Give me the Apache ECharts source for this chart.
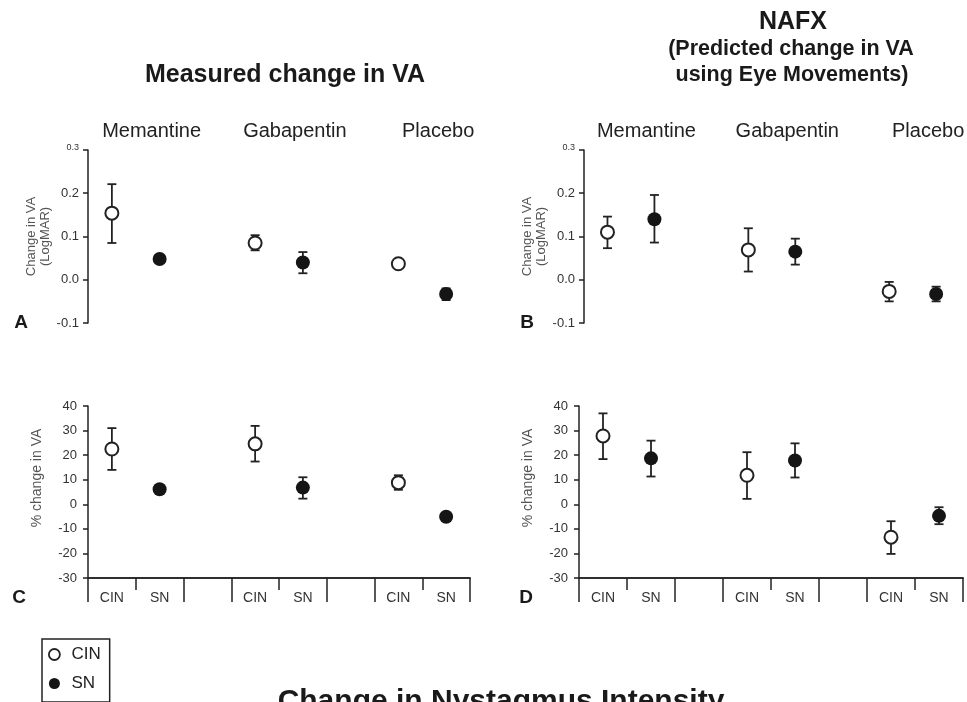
<!DOCTYPE html>
<html>
<head>
<meta charset="utf-8">
<script src="https://cdn.jsdelivr.net/npm/echarts@6/dist/echarts.min.js"></script>
<style>
  html, body { margin: 0; padding: 0; background: #fff; }
  #chart { width: 967px; height: 702px; }
</style>
</head>
<body>
<div id="chart"></div>
<script>
// x slots shared by all four panels: CIN / SN pairs with an empty spacer between drugs
const categories = ['CIN', 'SN', '', 'CIN', 'SN', '', 'CIN', 'SN'];
const drugs = ['Memantine', 'Gabapentin', 'Placebo'];
const cinSlots = [0, 3, 6];
const snSlots = [1, 4, 7];

// A - measured change in VA (LogMAR)
const aCinMean = [0.154, 0.085, 0.037];
const aCinLow = [0.085, 0.068, 0.030];
const aCinHigh = [0.221, 0.103, 0.044];
const aSnMean = [0.048, 0.040, -0.033];
const aSnLow = [0.042, 0.015, -0.047];
const aSnHigh = [0.054, 0.064, -0.020];

// B - NAFX predicted change in VA (LogMAR)
const bCinMean = [0.110, 0.069, -0.027];
const bCinLow = [0.073, 0.019, -0.050];
const bCinHigh = [0.146, 0.119, -0.005];
const bSnMean = [0.140, 0.065, -0.033];
const bSnLow = [0.086, 0.035, -0.050];
const bSnHigh = [0.196, 0.095, -0.016];

// C - measured % change in VA
const cCinMean = [22.5, 24.6, 8.8];
const cCinLow = [14.0, 17.4, 5.9];
const cCinHigh = [31.0, 31.9, 11.8];
const cSnMean = [6.1, 6.8, -5.1];
const cSnLow = [5.0, 2.3, -6.5];
const cSnHigh = [7.2, 11.0, -3.8];

// D - NAFX predicted % change in VA
const dCinMean = [27.8, 11.8, -13.4];
const dCinLow = [18.4, 2.2, -20.2];
const dCinHigh = [37.0, 21.2, -6.9];
const dSnMean = [18.7, 17.8, -4.7];
const dSnLow = [11.3, 10.9, -8.1];
const dSnHigh = [25.9, 24.8, -1.2];

const FONT = '"Liberation Sans", Arial, Helvetica, sans-serif';
const INK = '#222';

const chart = echarts.init(document.getElementById('chart'));

function points(slots, mean) {
    return slots.map((s, i) => [s, mean[i]]);
}
function bars(slots, low, high) {
    return slots.map((s, i) => [s, low[i], high[i]]);
}

function renderErrorBar(params, api) {
    const x = api.value(0);
    const lo = api.coord([x, api.value(1)]);
    const hi = api.coord([x, api.value(2)]);
    const cap = 4.5;
    const style = { stroke: INK, lineWidth: 1.8 };
    return {
        type: 'group',
        children: [
            { type: 'line', shape: { x1: hi[0], y1: hi[1], x2: lo[0], y2: lo[1] }, style },
            { type: 'line', shape: { x1: hi[0] - cap, y1: hi[1], x2: hi[0] + cap, y2: hi[1] }, style },
            { type: 'line', shape: { x1: lo[0] - cap, y1: lo[1], x2: lo[0] + cap, y2: lo[1] }, style }
        ]
    };
}

function panelSeries(xIdx, yIdx, cinMean, cinLow, cinHigh, snMean, snLow, snHigh) {
    return [
        {
            type: 'custom', xAxisIndex: xIdx, yAxisIndex: yIdx, renderItem: renderErrorBar,
            encode: { x: 0, y: [1, 2] }, data: bars(cinSlots, cinLow, cinHigh), z: 2, silent: true
        },
        {
            type: 'custom', xAxisIndex: xIdx, yAxisIndex: yIdx, renderItem: renderErrorBar,
            encode: { x: 0, y: [1, 2] }, data: bars(snSlots, snLow, snHigh), z: 2, silent: true
        },
        {
            name: 'CIN', type: 'scatter', xAxisIndex: xIdx, yAxisIndex: yIdx,
            symbol: 'circle', symbolSize: 13,
            itemStyle: { color: '#fff', borderColor: INK, borderWidth: 2, opacity: 1 },
            data: points(cinSlots, cinMean), z: 3
        },
        {
            name: 'SN', type: 'scatter', xAxisIndex: xIdx, yAxisIndex: yIdx,
            symbol: 'circle', symbolSize: 14,
            itemStyle: { color: '#151515', opacity: 1 },
            data: points(snSlots, snMean), z: 3
        }
    ];
}

const grids = [
    { left: 88, top: 150, width: 382, height: 173 },
    { left: 584, top: 150, width: 380, height: 173 },
    { left: 88, top: 406, width: 382, height: 172 },
    { left: 579, top: 406, width: 384, height: 172 }
];

function topDrugAxis(gridIndex) {
    return {
        type: 'category', gridIndex, position: 'top', data: categories,
        axisLine: { show: false, onZero: false }, axisTick: { show: false },
        axisLabel: {
            interval: 0, margin: 9, color: INK, fontFamily: FONT, fontSize: 20,
            padding: [0, 16, 0, 0],
            formatter: (v, i) => (i % 3 === 1 ? drugs[(i - 1) / 3] : '')
        }
    };
}
function bottomLongAxis(gridIndex) {
    return {
        type: 'category', gridIndex, position: 'bottom', data: categories,
        axisLine: { show: true, onZero: false, lineStyle: { color: INK, width: 1.5 } },
        axisTick: { show: true, length: 24, interval: (i) => i % 3 !== 1, lineStyle: { color: INK, width: 1.5 } },
        axisLabel: { interval: 0, margin: 13, color: '#333', fontFamily: FONT, fontSize: 14 }
    };
}
function bottomShortAxis(gridIndex) {
    return {
        type: 'category', gridIndex, position: 'bottom', data: categories,
        axisLine: { show: true, onZero: false, lineStyle: { color: INK, width: 1.5 } },
        axisTick: { show: true, length: 12, interval: (i) => i % 3 === 1, lineStyle: { color: INK, width: 1.5 } },
        axisLabel: { show: false }
    };
}

function logmarAxis(gridIndex) {
    return {
        type: 'value', gridIndex, min: -0.1, max: 0.3, interval: 0.1,
        name: 'Change in VA\n(LogMAR)', nameLocation: 'middle', nameGap: 36,
        nameTextStyle: { color: '#555', fontFamily: FONT, fontSize: 13, lineHeight: 14 },
        splitLine: { show: false },
        axisLine: { show: true, onZero: false, lineStyle: { color: INK, width: 1.5 } },
        axisTick: { show: true, length: 5, lineStyle: { color: INK, width: 1.5 } },
        axisLabel: {
            margin: 9, color: '#333', fontFamily: FONT, fontSize: 13,
            formatter: v => (Math.abs(v - 0.3) < 1e-9 ? '{s|0.3}' : v.toFixed(1)),
            rich: { s: { fontSize: 9, fontFamily: FONT, color: '#333', padding: [0, 0, 5, 0] } }
        }
    };
}
function percentAxis(gridIndex) {
    return {
        type: 'value', gridIndex, min: -30, max: 40, interval: 10,
        name: '% change in VA', nameLocation: 'middle', nameGap: 44,
        nameTextStyle: { color: '#555', fontFamily: FONT, fontSize: 14, padding: [0, 0, 0, 28] },
        splitLine: { show: false },
        axisLine: { show: true, onZero: false, lineStyle: { color: INK, width: 1.5 } },
        axisTick: { show: true, length: 5, lineStyle: { color: INK, width: 1.5 } },
        axisLabel: { margin: 11, color: '#333', fontFamily: FONT, fontSize: 13 }
    };
}

function label(text, x, y, size, weight) {
    return {
        type: 'text', x, y, silent: true,
        style: {
            text, fill: '#1a1a1a', font: (weight || 'normal') + ' ' + size + 'px ' + FONT,
            align: 'center', verticalAlign: 'middle'
        }
    };
}

const option = {
    backgroundColor: '#fff',
    animation: false,
    grid: grids,
    xAxis: [
        topDrugAxis(0),
        topDrugAxis(1),
        bottomLongAxis(2),
        bottomShortAxis(2),
        bottomLongAxis(3),
        bottomShortAxis(3)
    ],
    yAxis: [logmarAxis(0), logmarAxis(1), percentAxis(2), percentAxis(3)],
    legend: {
        orient: 'vertical', left: 42, top: 639,
        padding: [7, 9, 10, 6], itemGap: 12,
        itemWidth: 24, itemHeight: 11,
        borderColor: INK, borderWidth: 1.5, borderRadius: 0,
        textStyle: { color: INK, fontFamily: FONT, fontSize: 17 },
        selectedMode: false,
        data: [
            { name: 'CIN', icon: 'circle', itemStyle: { color: '#fff', borderColor: INK, borderWidth: 1.8 } },
            { name: 'SN', icon: 'circle', itemStyle: { color: '#151515', borderWidth: 0 } }
        ]
    },
    graphic: [
        label('Measured change in VA', 285, 75, 25, 'bold'),
        label('NAFX', 793, 22, 25, 'bold'),
        label('(Predicted change in VA', 791, 49, 21.5, 'bold'),
        label('using Eye Movements)', 792, 75, 21.5, 'bold'),
        label('A', 21, 323, 19, 'bold'),
        label('B', 527, 323, 19, 'bold'),
        label('C', 19, 598, 19, 'bold'),
        label('D', 526, 598, 19, 'bold'),
        label('Change in Nystagmus Intensity', 501, 702, 30, 'bold')
    ],
    series: [
        ...panelSeries(0, 0, aCinMean, aCinLow, aCinHigh, aSnMean, aSnLow, aSnHigh),
        ...panelSeries(1, 1, bCinMean, bCinLow, bCinHigh, bSnMean, bSnLow, bSnHigh),
        ...panelSeries(2, 2, cCinMean, cCinLow, cCinHigh, cSnMean, cSnLow, cSnHigh),
        ...panelSeries(4, 3, dCinMean, dCinLow, dCinHigh, dSnMean, dSnLow, dSnHigh)
    ]
};

chart.setOption(option);
window.addEventListener('resize', () => chart.resize());
</script>
</body>
</html>
